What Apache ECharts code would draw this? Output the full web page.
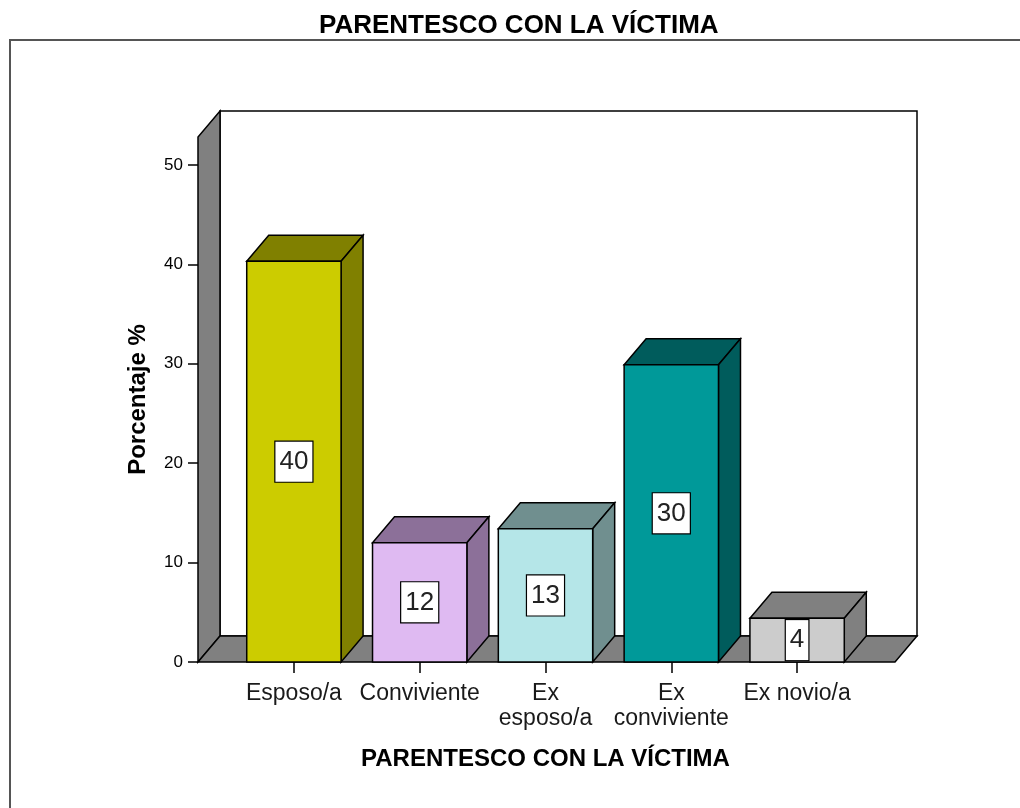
<!DOCTYPE html>
<html>
<head>
<meta charset="utf-8">
<script src="https://cdn.jsdelivr.net/npm/echarts@6/dist/echarts.min.js"></script>
<style>
  html, body { margin: 0; padding: 0; background: #fff; }
  #main { width: 1020px; height: 808px; }
</style>
</head>
<body>
<div id="main"></div>
<script>
const categories = ['Esposo/a', 'Conviviente', 'Ex esposo/a', 'Ex conviviente', 'Ex novio/a'];
const categoryLabels = ['Esposo/a', 'Conviviente', 'Ex\nesposo/a', 'Ex\nconviviente', 'Ex novio/a'];
const percentages = [40.3, 12.0, 13.4, 29.9, 4.4];
const frontColors = ['#cccc00', '#dfbaf2', '#b5e6e8', '#009999', '#cccccc'];
const sideColors = ['#808000', '#8c7099', '#708f8f', '#005c5c', '#808080'];
const yTicks = [0, 10, 20, 30, 40, 50];
const yTop = 52.8;

// profundidad del efecto 3D (px)
const DX = 22, DY = -26;
const FONT = '"Liberation Sans", Arial, sans-serif';
const edge = { stroke: '#000', lineWidth: 1.5 };

const chart = echarts.init(document.getElementById('main'));

// paredes y piso del grafico
function renderWalls(params, api) {
  const cs = params.coordSys;
  const yb = api.coord([0, 0])[1];
  const yt = api.coord([0, yTop])[1];
  const xl = cs.x - 33;
  const xr = cs.x + cs.width + 35;
  return {
    type: 'group',
    children: [
      { type: 'rect', shape: { x: xl + DX, y: yt + DY, width: xr - xl, height: yb - yt },
        style: Object.assign({ fill: '#fff' }, edge) },
      { type: 'polygon', shape: { points: [[xl, yb], [xl, yt], [xl + DX, yt + DY], [xl + DX, yb + DY]] },
        style: Object.assign({ fill: '#808080' }, edge) },
      { type: 'polygon', shape: { points: [[xl, yb], [xr, yb], [xr + DX, yb + DY], [xl + DX, yb + DY]] },
        style: Object.assign({ fill: '#808080' }, edge) }
    ]
  };
}

// barra con cara frontal, superior y lateral
function renderBar(params, api) {
  const i = api.value(0);
  const v = api.value(1);
  const top = api.coord([i, v]);
  const base = api.coord([i, 0]);
  const w = api.size([1, 0])[0] * 0.75;
  const x0 = top[0] - w / 2, x1 = top[0] + w / 2;
  const yt = top[1], yb = base[1];
  return {
    type: 'group',
    children: [
      { type: 'polygon', shape: { points: [[x0, yt], [x1, yt], [x1 + DX, yt + DY], [x0 + DX, yt + DY]] },
        style: Object.assign({ fill: sideColors[i] }, edge) },
      { type: 'polygon', shape: { points: [[x1, yt], [x1 + DX, yt + DY], [x1 + DX, yb + DY], [x1, yb]] },
        style: Object.assign({ fill: sideColors[i] }, edge) },
      { type: 'rect', shape: { x: x0, y: yt, width: w, height: yb - yt },
        style: Object.assign({ fill: frontColors[i] }, edge) },
      { type: 'text', x: top[0], y: (yt + yb) / 2,
        style: {
          text: String(Math.round(v)),
          align: 'center', verticalAlign: 'middle',
          fontSize: 26, fontFamily: FONT, fill: '#222',
          lineHeight: 30,
          backgroundColor: '#fff', borderColor: '#000', borderWidth: 1.2,
          padding: [5, 4, 5, 4]
        } }
    ]
  };
}

chart.setOption({
  animation: false,
  textStyle: { fontFamily: FONT },
  title: {
    text: 'PARENTESCO CON LA VÍCTIMA',
    left: 314, top: 8,
    textStyle: { fontSize: 26, fontWeight: 'bold', color: '#000', fontFamily: FONT }
  },
  graphic: [{
    type: 'rect', z: -10, silent: true,
    shape: { x: 10, y: 40, width: 1030, height: 800 },
    style: { fill: 'none', stroke: '#555', lineWidth: 2 }
  }],
  grid: { left: 231, right: 160, top: 137, bottom: 146, containLabel: false },
  xAxis: {
    type: 'category',
    data: categories,
    axisLine: { show: false },
    axisTick: { show: true, alignWithLabel: true, length: 11, lineStyle: { color: '#000', width: 1.5 } },
    axisLabel: {
      interval: 0, fontSize: 23, lineHeight: 25, color: '#1a1a1a', margin: 19,
      formatter: (v, idx) => categoryLabels[idx]
    },
    splitLine: { show: false },
    name: 'PARENTESCO CON LA VÍCTIMA',
    nameLocation: 'middle', nameGap: 85,
    nameTextStyle: { fontSize: 24, fontWeight: 'bold', color: '#000' }
  },
  yAxis: {
    type: 'value', min: 0, max: yTop, interval: 10, offset: 33,
    axisLine: { show: false },
    axisTick: { show: true, length: 10, customValues: yTicks, lineStyle: { color: '#000', width: 1.5 } },
    axisLabel: { customValues: yTicks, fontSize: 17, color: '#000', margin: 15 },
    splitLine: { show: false },
    name: 'Porcentaje %',
    nameLocation: 'middle', nameGap: 48,
    nameTextStyle: { fontSize: 24, fontWeight: 'bold', color: '#000' }
  },
  series: [
    {
      type: 'custom', name: 'paredes', z: 1, silent: true, clip: false,
      renderItem: renderWalls,
      data: [[0, 0]]
    },
    {
      type: 'custom', name: 'Porcentaje', z: 2, clip: false,
      renderItem: renderBar,
      data: percentages.map((v, i) => [i, v])
    }
  ]
});
</script>
</body>
</html>
